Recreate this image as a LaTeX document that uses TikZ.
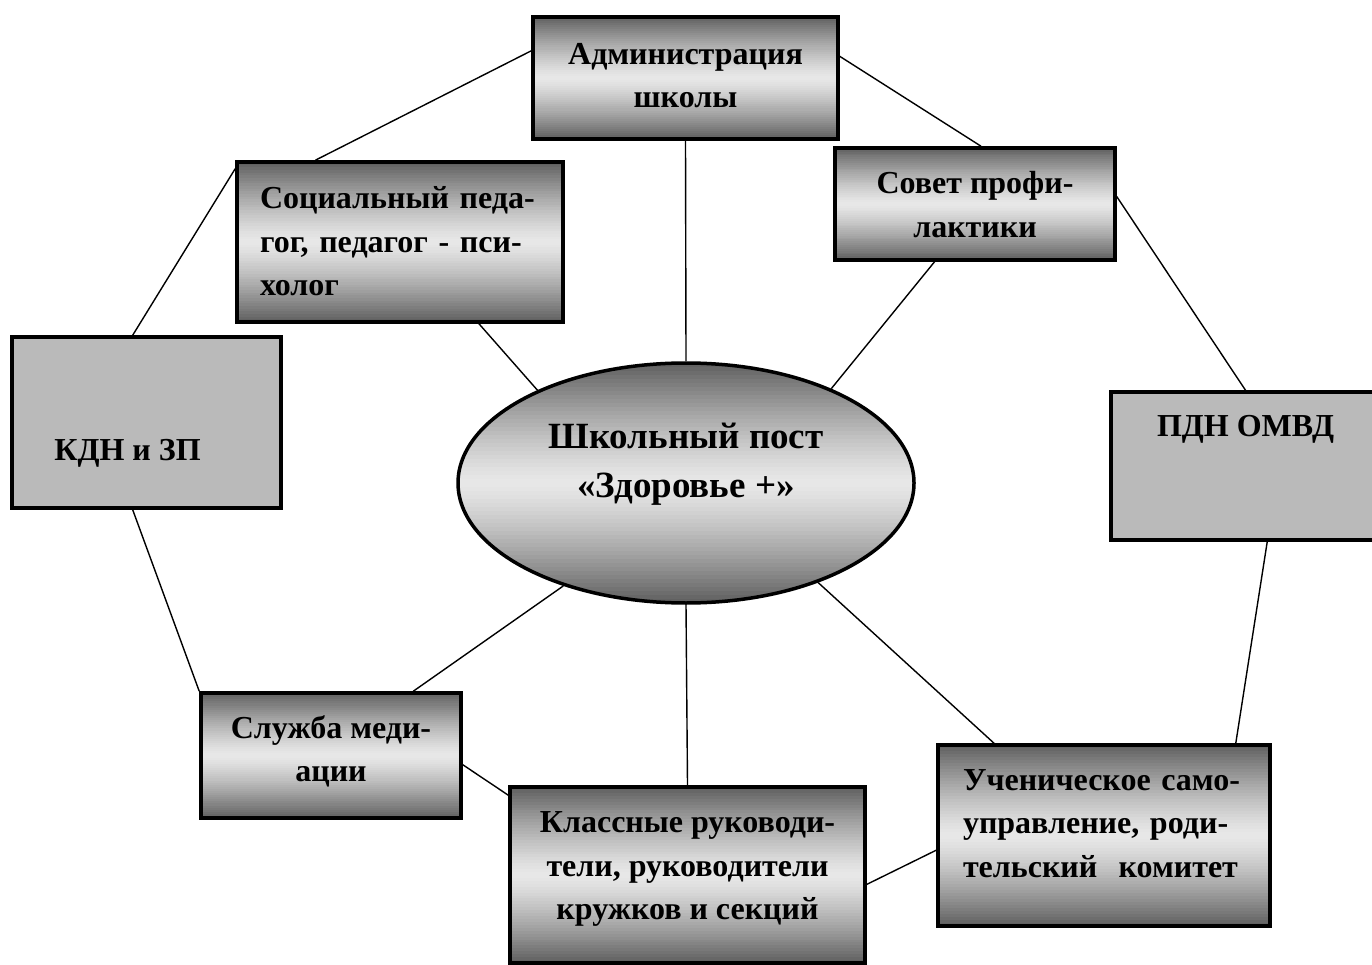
\documentclass[tikz,border=0pt]{standalone}
\usepackage{fontspec}
\setmainfont{Liberation Serif}
\usetikzlibrary{shapes.geometric,calc}
\newcommand{\gradfill}{%
  \foreach \i in {0,...,59}{%
    \pgfmathsetmacro\grt{abs((\i+0.5)/60*2-1)}%
    \pgfmathsetmacro\grp{9+54*\grt^1.3}%
    \pgfmathsetmacro\gra{\i/60}%
    \pgfmathsetmacro\grb{(\i+1.4)/60}%
    \fill[black!\grp] ($(path picture bounding box.north west)!\gra!(path picture bounding box.south west)$) rectangle ($(path picture bounding box.north east)!\grb!(path picture bounding box.south east)$);
  }}
\tikzset{
  base/.style={draw=black, line width=3.5pt, inner sep=0pt,
    font=\fontsize{32}{43.5}\selectfont\bfseries},
  gbox/.style={base, rectangle, path picture={\gradfill}},
  fbox/.style={base, rectangle, fill=black!27},
  link/.style={draw=black, line width=1.4pt}
}
\begin{document}
\begin{tikzpicture}[x=1pt,y=-1pt]
\useasboundingbox (0,0) rectangle (1372,965);
\fill[white] (0,0) rectangle (1372,965);

\node[gbox, minimum width=305pt, minimum height=122pt] (admin) at (685.5,78) {\raisebox{-5.5pt}[0pt][0pt]{\begin{tabular}{@{}c@{}}Администрация\\школы\end{tabular}}};
\node[gbox, minimum width=326pt, minimum height=160pt, text width=280pt] (soc) at (400,242) {\raisebox{-8pt}[0pt][0pt]{\begin{tabular}{@{}l@{}}Социальный педа-\\гог, педагог - пси-\\холог\end{tabular}}};
\node[gbox, minimum width=280pt, minimum height=112pt] (sovet) at (975,204) {\raisebox{-9pt}[0pt][0pt]{\begin{tabular}{@{}c@{}}Совет профи-\\лактики\end{tabular}}};
\node[fbox, minimum width=269pt, minimum height=171pt] (kdn) at (146.5,422.5) {\raisebox{-38pt}[0pt][0pt]{\makebox[0pt]{\hspace*{-38pt}КДН и ЗП}}};
\node[fbox, minimum width=269pt, minimum height=148pt] (pdn) at (1245.5,466) {\raisebox{30pt}[0pt][0pt]{ПДН ОМВД}};
\node[base, ellipse, path picture={\gradfill}, minimum width=456pt, minimum height=240pt, font=\fontsize{37}{49}\selectfont\bfseries] (ell) at (686,483) {\raisebox{14pt}[0pt][0pt]{\begin{tabular}{@{}c@{}}Школьный пост\\«Здоровье +»\end{tabular}}};
\node[gbox, minimum width=260pt, minimum height=125pt] (sluzh) at (331,755.5) {\raisebox{-2pt}[0pt][0pt]{\begin{tabular}{@{}c@{}}Служба меди-\\ации\end{tabular}}};
\node[gbox, minimum width=355pt, minimum height=176pt] (klass) at (687.5,875) {\raisebox{1pt}[0pt][0pt]{\begin{tabular}{@{}c@{}}Классные руководи-\\тели, руководители\\кружков и секций\end{tabular}}};
\node[gbox, minimum width=332pt, minimum height=181pt, text width=282pt] (uchen) at (1104,835.5) {\raisebox{4pt}[0pt][0pt]{\begin{tabular}{@{}l@{}}Ученическое само-\\управление, роди-\\тельский\ \ комитет\end{tabular}}};

\draw[link] (admin.170.3) -- (soc.136.7);
\draw[link] (admin.8.6) -- (sovet.84.9);
\draw[link] (admin.south) -- (ell.north);
\draw[link] (soc.156.8) -- (kdn.99);
\draw[link] (soc.-46.1) -- (ell.148.4);
\draw[link] (sovet.235.8) -- (ell.33.6);
\draw[link] (sovet.3.7) -- (pdn.north);
\draw[link] (kdn.261) -- (sluzh.north west);
\draw[link] (ell.220.3) -- (sluzh.38.3);
\draw[link] (ell.south) -- (klass.north);
\draw[link] (ell.-37.5) -- (uchen.140);
\draw[link] (pdn.-74.5) -- (uchen.35.7);
\draw[link] (sluzh.-4.2) -- (klass.156.1);
\draw[link] (klass.-3.7) -- (uchen.185);
\end{tikzpicture}
\end{document}
